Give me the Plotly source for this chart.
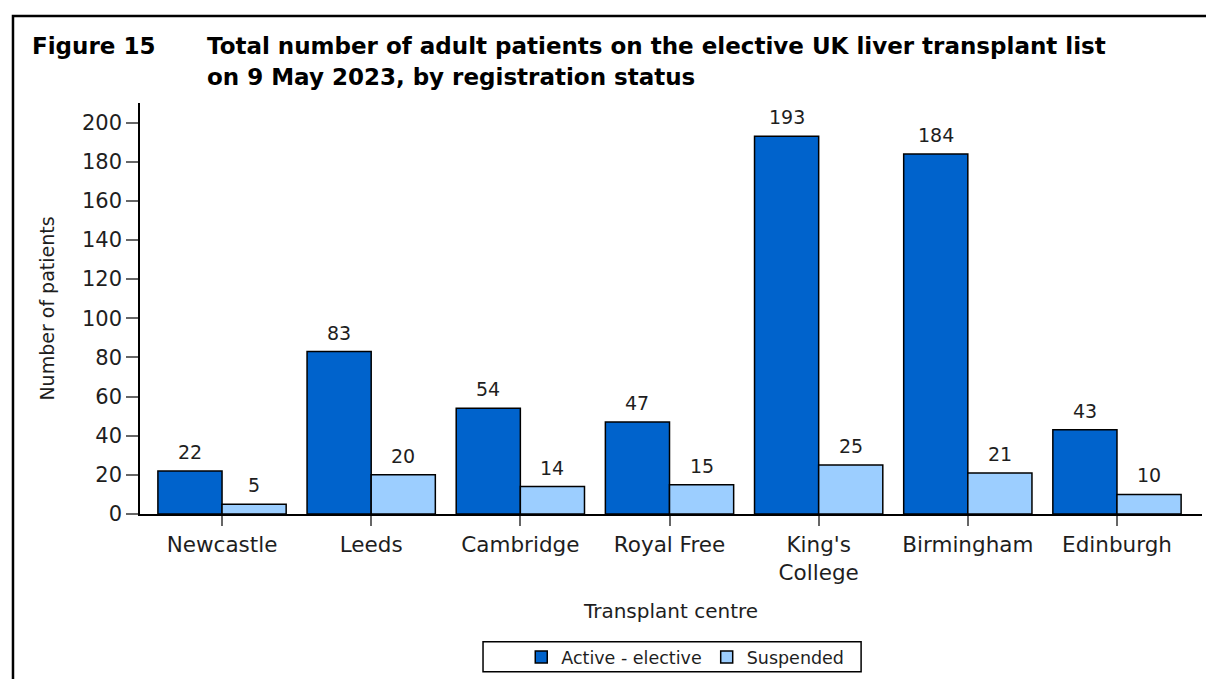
import plotly.graph_objects as go

centres = ["Newcastle", "Leeds", "Cambridge", "Royal Free", "King's College", "Birmingham", "Edinburgh"]
centre_labels = ["Newcastle", "Leeds", "Cambridge", "Royal Free", "King's<br>College", "Birmingham", "Edinburgh"]
active_elective = [22, 83, 54, 47, 193, 184, 43]
suspended = [5, 20, 14, 15, 25, 21, 10]
y_ticks = [0, 20, 40, 60, 80, 100, 120, 140, 160, 180, 200]

FONT = "DejaVu Sans"
TXT = "#1e1e1e"
C_ACTIVE = "#0063CC"
C_SUSP = "#9CCEFF"
BARGAP = 0.14

fig = go.Figure()
fig.add_trace(go.Bar(name="Active - elective", x=centres, y=active_elective,
                     marker=dict(color=C_ACTIVE, line=dict(color="black", width=1.5))))
fig.add_trace(go.Bar(name="Suspended", x=centres, y=suspended,
                     marker=dict(color=C_SUSP, line=dict(color="black", width=1.5))))

off = (1 - BARGAP) / 4
annos = []
for i, (a, s) in enumerate(zip(active_elective, suspended)):
    annos.append(dict(x=i - off, y=a, xref="x", yref="y", text=str(a), showarrow=False,
                      yanchor="bottom", yshift=6, font=dict(family=FONT, size=19, color=TXT)))
    annos.append(dict(x=i + off, y=s, xref="x", yref="y", text=str(s), showarrow=False,
                      yanchor="bottom", yshift=6, font=dict(family=FONT, size=19, color=TXT)))

TITLE_FONT = dict(family=FONT, size=23, color="black")
annos.append(dict(x=-0.1035, y=1.176, xref="paper", yref="paper", xanchor="left", yanchor="top",
                  text="<b>Figure 15</b>", showarrow=False, font=TITLE_FONT))
annos.append(dict(x=0.0612, y=1.176, xref="paper", yref="paper", xanchor="left", yanchor="top",
                  text="<b>Total number of adult patients on the elective UK liver transplant list</b>",
                  showarrow=False, font=TITLE_FONT))
annos.append(dict(x=0.0612, y=1.100, xref="paper", yref="paper", xanchor="left", yanchor="top",
                  text="<b>on 9 May 2023, by registration status</b>",
                  showarrow=False, font=TITLE_FONT))

shapes = [
    # outer frame (left and top edges visible)
    dict(type="rect", xref="paper", yref="paper", x0=-0.1196, x1=1.1, y0=-0.5, y1=1.2117,
         line=dict(color="black", width=2.5), fillcolor="rgba(0,0,0,0)"),
    # legend box
    dict(type="rect", xref="paper", yref="paper", x0=0.323, x1=0.679, y0=-0.384, y1=-0.311,
         line=dict(color="black", width=1.5), fillcolor="rgba(0,0,0,0)"),
]

fig.update_layout(
    width=1206, height=679,
    margin=dict(l=140, r=4, t=103, b=165),
    paper_bgcolor="white", plot_bgcolor="white",
    barmode="group", bargap=BARGAP, bargroupgap=0,
    font=dict(family=FONT, color=TXT),
    showlegend=True,
    legend=dict(orientation="h", x=0.359, xanchor="left", y=-0.348, yanchor="middle",
                font=dict(family=FONT, size=17.5, color=TXT), bgcolor="rgba(0,0,0,0)",
                traceorder="normal"),
    annotations=annos,
    shapes=shapes,
    xaxis=dict(type="category", categoryorder="array", categoryarray=centres,
               tickvals=centres, ticktext=centre_labels,
               range=[-0.55, 6.57], showline=True, linecolor="black", linewidth=1.5,
               ticks="outside", ticklen=10, tickcolor="#666666", tickwidth=1.5,
               tickfont=dict(family=FONT, size=21.5, color=TXT),
               showgrid=False, zeroline=False,
               title=dict(text="Transplant centre", standoff=20,
                          font=dict(family=FONT, size=20, color=TXT))),
    yaxis=dict(range=[0, 210], tickvals=y_ticks, showline=True, linecolor="black", linewidth=1.5,
               ticks="outside", ticklen=12, tickcolor="#666666", tickwidth=1.5,
               tickfont=dict(family=FONT, size=21, color=TXT),
               showgrid=False, zeroline=False,
               title=dict(text="Number of patients", standoff=22,
                          font=dict(family=FONT, size=19, color=TXT))),
)

fig.write_html("out.html", config={"displayModeBar": False},
               post_script="document.body.style.margin='0';document.body.style.overflow='hidden';")
